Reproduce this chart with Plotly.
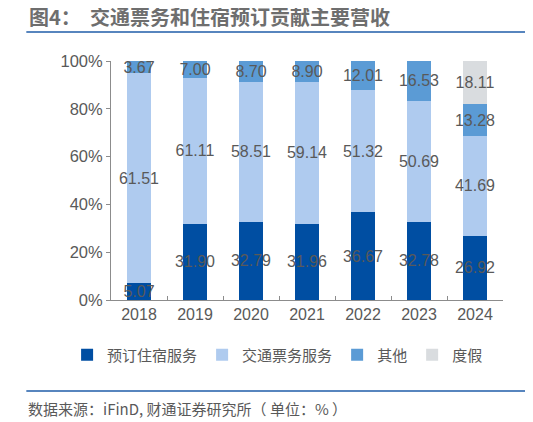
import plotly.graph_objects as go

# 年份和各业务营收（单位：%，2018年为原始数值，堆叠后按百分比显示）
years = ["2018", "2019", "2020", "2021", "2022", "2023", "2024"]
zhusu = [5.07, 31.90, 32.79, 31.96, 36.67, 32.78, 26.92]
jiaotong = [61.51, 61.11, 58.51, 59.14, 51.32, 50.69, 41.69]
qita = [3.67, 7.00, 8.70, 8.90, 12.01, 16.53, 13.28]
dujia = [None, None, None, None, None, None, 18.11]

series = [
    ("预订住宿服务", zhusu, "#004EA2"),
    ("交通票务服务", jiaotong, "#AFCBEF"),
    ("其他", qita, "#5B9BD5"),
    ("度假", dujia, "#D9DCDF"),
]

grey = "#595959"
font_cn = "Noto Sans CJK SC"

fig = go.Figure()
for name, vals, color in series:
    fig.add_trace(go.Bar(
        x=years, y=vals, name=name,
        marker=dict(color=color, line=dict(width=0)),
        text=[f"{v:.2f}" if v is not None else "" for v in vals],
        textposition="inside",
        insidetextanchor="middle",
        textangle=0,
        constraintext="none",
        textfont=dict(color=grey, size=16, family="Liberation Sans"),
    ))

# page body has an 8px margin, so the figure is 8px smaller than the window
fig.update_layout(
    width=525, height=414,
    barmode="stack", barnorm="percent", bargap=0.58,
    plot_bgcolor="white", paper_bgcolor="white",
    margin=dict(l=103, r=30, t=53, b=122),
    font=dict(family=font_cn, color=grey),
    showlegend=True,
    legend=dict(
        orientation="h", x=-0.112, xanchor="left",
        y=-0.23, yanchor="middle",
        font=dict(size=15, color=grey, family=font_cn),
        itemwidth=30, traceorder="normal",
    ),
    xaxis=dict(
        showline=True, linecolor="#8C8C8C", linewidth=1,
        ticks="inside", ticklen=4, tickcolor="#8C8C8C",
        tickson="boundaries",
        tickfont=dict(size=16, color=grey, family="Liberation Sans"),
    ),
    yaxis=dict(
        range=[0, 100], dtick=20, ticksuffix="%",
        showgrid=False, zeroline=False,
        showline=True, linecolor="#8C8C8C", linewidth=1,
        ticks="outside", ticklen=4, tickcolor="#8C8C8C",
        tickfont=dict(size=16.5, color=grey, family="Liberation Sans"),
    ),
    title=dict(
        text="<b>图4：  交通票务和住宿预订贡献主要营收</b>",
        xref="container", yref="container",
        x=21 / 525, xanchor="left", y=1 - 10 / 414, yanchor="middle",
        font=dict(size=20, color="#6E6E6E", family=font_cn),
    ),
    shapes=[
        dict(type="line", xref="paper", yref="paper",
             x0=-0.216, x1=1.057, y0=1.121, y1=1.121,
             line=dict(color="#1F5DA8", width=1.5)),
        dict(type="line", xref="paper", yref="paper",
             x0=-0.216, x1=1.057, y0=-0.381, y1=-0.381,
             line=dict(color="#1F5DA8", width=1.5)),
    ],
    annotations=[
        dict(text="数据来源：iFinD, 财通证券研究所（ 单位：% ）",
             xref="paper", yref="paper", x=-0.216, y=-0.456,
             xanchor="left", yanchor="middle", showarrow=False,
             font=dict(size=15, color=grey, family=font_cn)),
    ],
)

fig.write_html("out.html")
